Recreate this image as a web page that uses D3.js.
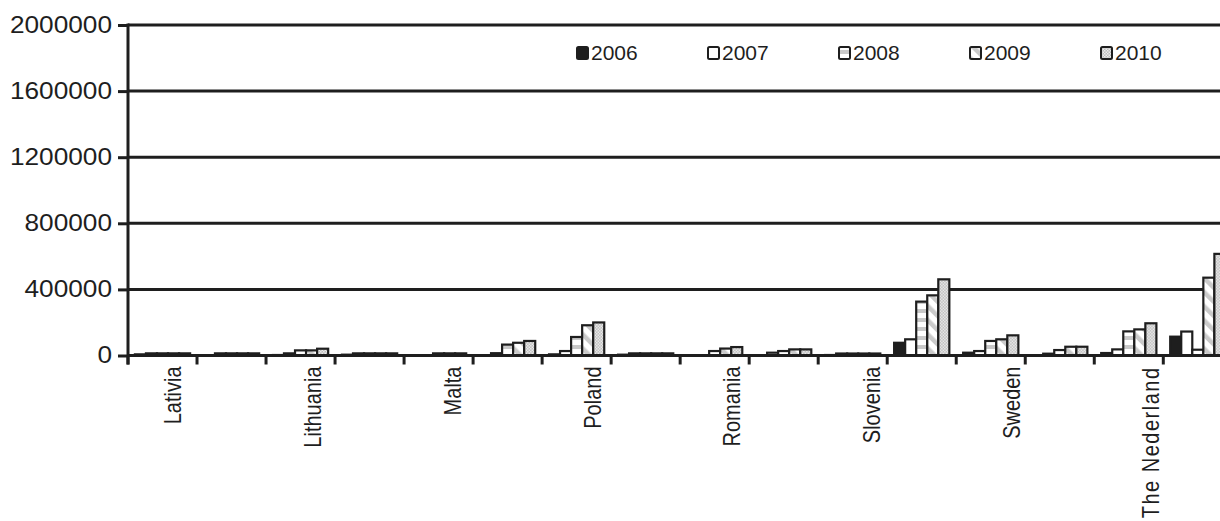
<!DOCTYPE html>
<html><head><meta charset="utf-8">
<script src="https://cdn.jsdelivr.net/npm/d3@7"></script>
<style>html,body{margin:0;padding:0;background:#fff;overflow:hidden}</style>
</head><body><svg id="c" width="1220" height="521"></svg>
<script>
const categories = ["Lativia","","Lithuania","","Malta","","Poland","","Romania","","Slovenia","","Sweden","","The Nederland",""];
const years = ["2006","2007","2008","2009","2010"];
const s2006 = [7000, 0, 3000, 5000, 0, 0, 7000, 5000, 0, 2000, 3000, 77000, 17000, 0, 15000, 114000];
const s2007 = [13000, 13000, 13000, 13000, 0, 14000, 27000, 13000, 0, 17000, 12000, 98000, 27000, 11000, 37000, 145000];
const s2008 = [13000, 13000, 31000, 13000, 13000, 66000, 112000, 13000, 27000, 27000, 12000, 326000, 88000, 33000, 146000, 35000];
const s2009 = [13000, 13000, 31000, 13000, 13000, 77000, 183000, 13000, 42000, 37000, 12000, 364000, 98000, 53000, 158000, 471000];
const s2010 = [13000, 13000, 41000, 13000, 13000, 88000, 200000, 13000, 51000, 37000, 12000, 461000, 122000, 53000, 195000, 615000];
const series = [s2006, s2007, s2008, s2009, s2010];
const yTicks = [0, 400000, 800000, 1200000, 1600000, 2000000];

(function(){
const svg = d3.select("#c");
const ink = "#1e1e1e";
const font = "'Liberation Sans', Arial, sans-serif";
const left = 128, bandW = 69.02, topY = 25, bottomY = 355.5;
const x0 = d3.scaleBand().domain(d3.range(categories.length)).range([left, left + bandW * categories.length]);
const x1 = d3.scaleBand().domain(years).range([bandW * 0.1, bandW * 0.9]);
const y = d3.scaleLinear().domain([0, 2000000]).range([bottomY, topY]);
// label positions drift slightly from band centres in the reference
const xl = d3.scaleLinear().domain([0, categories.length - 2]).range([173, 1151]);

// patterns
const defs = svg.append("defs");
const p8 = defs.append("pattern").attr("id","p2008").attr("patternUnits","userSpaceOnUse").attr("width",8).attr("height",9);
p8.append("rect").attr("width",8).attr("height",9).attr("fill","#fff");
p8.append("rect").attr("y",3).attr("width",8).attr("height",4).attr("fill","#c9c9c9");
const p9 = defs.append("pattern").attr("id","p2009").attr("patternUnits","userSpaceOnUse").attr("width",10).attr("height",10).attr("patternTransform","rotate(-45)");
p9.append("rect").attr("width",10).attr("height",10).attr("fill","#fff");
p9.append("rect").attr("width",4.5).attr("height",10).attr("fill","#cacaca");
const p10 = defs.append("pattern").attr("id","p2010").attr("patternUnits","userSpaceOnUse").attr("width",3).attr("height",3);
p10.append("rect").attr("width",3).attr("height",3).attr("fill","#bdbdbd");
p10.append("rect").attr("width",1.5).attr("height",1.5).attr("fill","#ececec");
p10.append("rect").attr("x",1.5).attr("y",1.5).attr("width",1.5).attr("height",1.5).attr("fill","#ececec");
const fills = [ink, "#fff", "url(#p2008)", "url(#p2009)", "url(#p2010)"];

// gridlines
svg.append("g").selectAll("line").data(yTicks).join("line")
  .attr("x1", left).attr("x2", 1232).attr("y1", d => y(d)).attr("y2", d => y(d))
  .attr("stroke", ink).attr("stroke-width", 3);

// y axis
const yAxis = d3.axisLeft(y).tickValues(yTicks).tickSize(10).tickPadding(6).tickFormat(d3.format("d"));
const gy = svg.append("g").attr("transform", `translate(${left},0)`).call(yAxis);
gy.select(".domain").remove();
gy.selectAll(".tick line").attr("stroke", ink).attr("stroke-width", 3);
gy.selectAll(".tick text").attr("font-family", font).attr("font-size", 23).attr("fill", ink)
  .each(function(){ const w = this.getComputedTextLength(); d3.select(this).attr("textLength", w * 1.14).attr("lengthAdjust", "spacingAndGlyphs"); });
svg.append("line").attr("x1", left).attr("x2", left).attr("y1", topY - 1.5).attr("y2", bottomY + 9)
  .attr("stroke", ink).attr("stroke-width", 3);

// bars
const groups = svg.append("g").selectAll("g").data(categories.map((c,i)=>i)).join("g")
  .attr("transform", i => `translate(${x0(i)},0)`);
groups.selectAll("rect").data(i => series.map((s,k)=>({k, v:s[i]})).filter(d => d.v > 0)).join("rect")
  .attr("x", d => x1(years[d.k])).attr("width", x1.bandwidth())
  .attr("y", d => y(d.v)).attr("height", d => y(0) - y(d.v))
  .attr("fill", d => fills[d.k]).attr("stroke", ink).attr("stroke-width", 2.2);

// x axis baseline & ticks
svg.append("line").attr("x1", left).attr("x2", 1232).attr("y1", bottomY).attr("y2", bottomY).attr("stroke", ink).attr("stroke-width", 3);
svg.append("g").selectAll("line").data(d3.range(categories.length + 1)).join("line")
  .attr("x1", i => left + bandW * i).attr("x2", i => left + bandW * i)
  .attr("y1", bottomY).attr("y2", bottomY + 9).attr("stroke", ink).attr("stroke-width", 3);

// category labels
svg.append("g").selectAll("text").data(categories.map((c,i)=>({c,i})).filter(d => d.c)).join("text")
  .attr("transform", d => `translate(${xl(d.i)},${bottomY + 11}) scale(1.2,1) rotate(-90)`)
  .attr("text-anchor", "end").attr("dy", "0.35em")
  .attr("font-family", font).attr("font-size", 20).attr("fill", ink)
  .attr("letter-spacing", d => d.c.length > 10 ? 1.5 : 0)
  .text(d => d.c);

// legend
const leg = svg.append("g").selectAll("g").data(years).join("g")
  .attr("transform", (d,i) => `translate(${577 + i*131},47)`);
leg.append("rect").attr("width", 11).attr("height", 12).attr("rx", 1.5)
  .attr("fill", (d,i) => fills[i]).attr("stroke", ink).attr("stroke-width", 2);
leg.append("text").attr("x", 14).attr("y", 6).attr("dy", "0.35em")
  .attr("font-family", font).attr("font-size", 21).attr("fill", ink).text(d => d);
})();
</script></body></html>
